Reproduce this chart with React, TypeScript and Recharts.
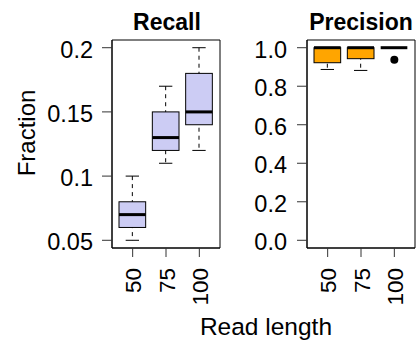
import React from "react";
import { ComposedChart, Bar, Scatter, XAxis, YAxis, CartesianGrid } from "recharts";

// categories
const readLengths = ["50", "75", "100"];

// Recall box stats
const recallMin = [0.05, 0.11, 0.12];
const recallQ1 = [0.06, 0.12, 0.14];
const recallMedian = [0.07, 0.13, 0.15];
const recallQ3 = [0.08, 0.15, 0.18];
const recallMax = [0.1, 0.17, 0.2];

// Precision box stats
const precisionMin = [0.887, 0.882, 1.0];
const precisionQ1 = [0.922, 0.943, 1.0];
const precisionMedian = [1.0, 1.0, 1.0];
const precisionQ3 = [1.0, 1.0, 1.0];
const precisionMax = [1.0, 1.0, 1.0];
const precisionOutliers: (number | null)[] = [null, null, 0.938];

// axis ticks
const recallTicks = [0.05, 0.1, 0.15, 0.2];
const precisionTicks = [0, 0.2, 0.4, 0.6, 0.8, 1.0];

const FONT = '"Liberation Sans", Arial, Helvetica, sans-serif';

const buildRows = (
  mins: number[],
  q1s: number[],
  meds: number[],
  q3s: number[],
  maxs: number[],
  outs?: (number | null)[]
) =>
  readLengths.map((len, i) => ({
    len,
    whisker: [mins[i], maxs[i]],
    box: [q1s[i], q3s[i]],
    med: [meds[i], meds[i]],
    outlier: outs ? outs[i] : null,
  }));

const recallRows = buildRows(recallMin, recallQ1, recallMedian, recallQ3, recallMax);
const precisionRows = buildRows(
  precisionMin,
  precisionQ1,
  precisionMedian,
  precisionQ3,
  precisionMax,
  precisionOutliers
);

const WhiskerShape = (props: any) => {
  const { x, y, width, height } = props;
  const top = Math.min(y, y + height);
  const bottom = Math.max(y, y + height);
  const cx = x + width / 2;
  const half = width / 4;
  return (
    <g>
      <line x1={cx} x2={cx} y1={top} y2={bottom} stroke="#000" strokeDasharray="4 4" />
      <line x1={cx - half} x2={cx + half} y1={top} y2={top} stroke="#000" />
      <line x1={cx - half} x2={cx + half} y1={bottom} y2={bottom} stroke="#000" />
    </g>
  );
};

const makeBoxShape = (fill: string) => (props: any) => {
  const { x, y, width, height } = props;
  const top = Math.min(y, y + height);
  return (
    <rect x={x} y={top} width={width} height={Math.abs(height)} fill={fill} stroke="#000" />
  );
};

const MedianShape = (props: any) => {
  const { x, y, width } = props;
  return <line x1={x} x2={x + width} y1={y} y2={y} stroke="#000" strokeWidth={3} />;
};

const OutlierShape = (props: any) => {
  const { cx, cy, payload } = props;
  if (payload == null || payload.outlier == null) return <g />;
  return <circle cx={cx} cy={cy} r={4} fill="#000" />;
};

const makeYTick = (fmt: (v: number) => string) => (props: any) => {
  const { x, y, payload } = props;
  return (
    <text x={x} y={y} dy={10} textAnchor="end" fontSize={23.5} fontFamily={FONT} fill="#000">
      {fmt(payload.value)}
    </text>
  );
};

const XTick = (props: any) => {
  const { x, y, payload } = props;
  return (
    <text
      x={x}
      y={y}
      dy={8.5}
      textAnchor="end"
      transform={`rotate(-90, ${x}, ${y})`}
      fontSize={22.5}
      fontFamily={FONT}
      fill="#000"
    >
      {payload.value}
    </text>
  );
};

// frame around the plot area, like R's box()
const frameRows = ({ offset }: any) => [offset.top, offset.top + offset.height];
const frameCols = ({ offset }: any) => [offset.left, offset.left + offset.width];

interface PanelProps {
  rows: any[];
  fill: string;
  domain: [number, number];
  ticks: number[];
  fmt: (v: number) => string;
  width: number;
  yAxisWidth: number;
  rightMargin: number;
  tickMargin: number;
  withOutliers?: boolean;
}

const BoxPanel: React.FC<PanelProps> = ({
  rows,
  fill,
  domain,
  ticks,
  fmt,
  width,
  yAxisWidth,
  rightMargin,
  tickMargin,
  withOutliers,
}) => (
  <ComposedChart
    width={width}
    height={346}
    data={rows}
    margin={{ top: 40, right: rightMargin, bottom: 0, left: 0 }}
    barSize={26.67}
    barGap={-26.67}
  >
    <CartesianGrid
      stroke="#000"
      horizontalCoordinatesGenerator={frameRows}
      verticalCoordinatesGenerator={frameCols}
    />
    <XAxis
      dataKey="len"
      type="category"
      height={98}
      padding={{ left: 4, right: 4 }}
      axisLine={{ stroke: "#000" }}
      tickLine={{ stroke: "#333" }}
      tickSize={9}
      tickMargin={11}
      tick={<XTick />}
      interval={0}
    />
    <YAxis
      type="number"
      domain={domain}
      ticks={ticks}
      allowDataOverflow
      width={yAxisWidth}
      axisLine={{ stroke: "#000" }}
      tickLine={{ stroke: "#333" }}
      tickSize={10}
      tickMargin={tickMargin}
      tick={makeYTick(fmt)}
      interval={0}
    />
    <Bar dataKey="whisker" shape={WhiskerShape} isAnimationActive={false} />
    <Bar dataKey="box" shape={makeBoxShape(fill)} isAnimationActive={false} />
    <Bar dataKey="med" shape={MedianShape} isAnimationActive={false} />
    {withOutliers && (
      <Scatter dataKey="outlier" shape={OutlierShape} isAnimationActive={false} />
    )}
  </ComposedChart>
);

export default function App() {
  return (
    <div
      style={{
        position: "absolute",
        left: 0,
        top: 0,
        width: 418,
        height: 346,
        background: "#fff",
        fontFamily: FONT,
      }}
    >
      <div style={{ position: "absolute", left: 0, top: 0 }}>
        <BoxPanel
          rows={recallRows}
          fill="#ccccf4"
          domain={[0.044, 0.206]}
          ticks={recallTicks}
          fmt={(v) => String(v)}
          width={230}
          yAxisWidth={112}
          rightMargin={10}
          tickMargin={9}
        />
      </div>
      <div style={{ position: "absolute", left: 230, top: 0 }}>
        <BoxPanel
          rows={precisionRows}
          fill="#ffa500"
          domain={[-0.04, 1.04]}
          ticks={precisionTicks}
          fmt={(v) => v.toFixed(1)}
          width={188}
          yAxisWidth={77}
          rightMargin={3}
          tickMargin={10}
          withOutliers
        />
      </div>
      <svg
        width={418}
        height={346}
        style={{ position: "absolute", left: 0, top: 0, pointerEvents: "none" }}
      >
        <text x={167} y={29.5} textAnchor="middle" fontSize={23} fontWeight="bold" fontFamily={FONT}>
          Recall
        </text>
        <text x={361} y={30} textAnchor="middle" fontSize={23} fontWeight="bold" fontFamily={FONT}>
          Precision
        </text>
        <text
          x={35}
          y={133}
          textAnchor="middle"
          fontSize={24}
          fontFamily={FONT}
          transform="rotate(-90, 35, 133)"
        >
          Fraction
        </text>
        <text x={266} y={335} textAnchor="middle" fontSize={24.5} fontFamily={FONT}>
          Read length
        </text>
      </svg>
    </div>
  );
}
